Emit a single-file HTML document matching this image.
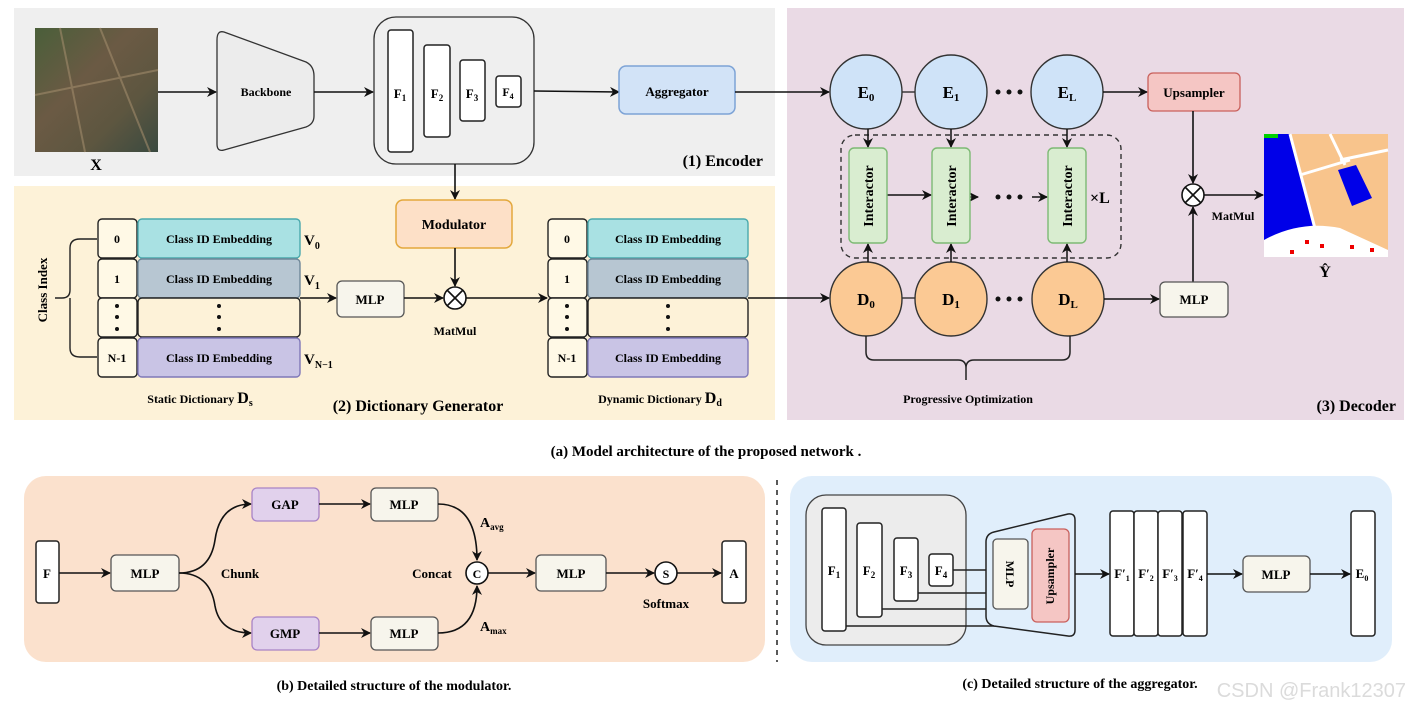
<!DOCTYPE html>
<html><head><meta charset="utf-8"><style>
html,body{margin:0;padding:0;background:#fff;}
svg{display:block;font-family:"Liberation Serif",serif;font-weight:bold;}
</style></head><body>
<svg width="1412" height="714" viewBox="0 0 1412 714" xmlns="http://www.w3.org/2000/svg">
<defs>
<marker id="ar" markerWidth="10" markerHeight="10" refX="9" refY="5" orient="auto" markerUnits="userSpaceOnUse"><path d="M0,0 L10,5 L0,10 L3,5 Z" fill="#111"/></marker>
<linearGradient id="sat" x1="0" y1="0" x2="1" y2="1"><stop offset="0" stop-color="#4a5f3a"/><stop offset="0.4" stop-color="#6b5a44"/><stop offset="0.7" stop-color="#5d5640"/><stop offset="1" stop-color="#3a4a40"/></linearGradient>
</defs>
<g stroke-linejoin="round">
<!-- backgrounds -->
<rect x="14" y="8" width="761" height="168" fill="#efefef"/>
<rect x="14" y="186" width="761" height="234" fill="#fdf2d8"/>
<rect x="787" y="8" width="617" height="412" fill="#eadae5"/>
<rect x="24" y="476" width="741" height="186" rx="22" fill="#fbe1cd"/>
<rect x="790" y="476" width="602" height="186" rx="22" fill="#e0eefb"/>
<line x1="777" y1="480" x2="777" y2="662" stroke="#222" stroke-width="1.5" stroke-dasharray="5,5"/>

<!-- Encoder -->
<rect x="35" y="28" width="123" height="124" fill="url(#sat)"/>
<path d="M60,28 L85,152 M35,95 L158,70 M100,28 L150,152" stroke="#a08a6a" stroke-width="2" fill="none" opacity="0.6"/>
<text x="96" y="170" font-size="16" text-anchor="middle">X</text>
<line x1="158" y1="92" x2="216" y2="92" stroke="#111" stroke-width="1.6" marker-end="url(#ar)"/>
<path d="M224,32 L306,62 Q314,66 314,76 L314,116 Q314,124 306,127 L224,150 Q217,152 217,144 L217,40 Q217,30 224,32 Z" fill="#ececec" stroke="#333" stroke-width="1.3"/>
<text x="266" y="96" font-size="12" text-anchor="middle">Backbone</text>
<line x1="314" y1="92" x2="373" y2="92" stroke="#111" stroke-width="1.6" marker-end="url(#ar)"/>
<rect x="374" y="17" width="160" height="147" rx="22" fill="#efefef" stroke="#333" stroke-width="1.3"/>
<rect x="388" y="30" width="25" height="122" rx="3" fill="#fff" stroke="#222" stroke-width="1.5"/>
<rect x="424" y="45" width="26" height="92" rx="3" fill="#fff" stroke="#222" stroke-width="1.5"/>
<rect x="460" y="60" width="25" height="61" rx="3" fill="#fff" stroke="#222" stroke-width="1.5"/>
<rect x="496" y="76" width="25" height="31" rx="3" fill="#fff" stroke="#222" stroke-width="1.5"/>
<text x="400" y="98" font-size="13" text-anchor="middle">F<tspan font-size="9" dy="3">1</tspan></text>
<text x="437" y="98" font-size="13" text-anchor="middle">F<tspan font-size="9" dy="3">2</tspan></text>
<text x="472" y="98" font-size="13" text-anchor="middle">F<tspan font-size="9" dy="3">3</tspan></text>
<text x="508" y="96" font-size="12" text-anchor="middle">F<tspan font-size="8" dy="3">4</tspan></text>
<line x1="534" y1="91" x2="619" y2="92" stroke="#111" stroke-width="1.6" marker-end="url(#ar)"/>
<rect x="619" y="66" width="116" height="48" rx="7" fill="#d2e3f7" stroke="#7da3d6" stroke-width="1.5"/>
<text x="677" y="96" font-size="13" text-anchor="middle">Aggregator</text>
<line x1="735" y1="92" x2="829" y2="92" stroke="#111" stroke-width="1.6" marker-end="url(#ar)"/>
<text x="763" y="166" font-size="16" text-anchor="end">(1) Encoder</text>
<line x1="455" y1="164" x2="455" y2="199" stroke="#111" stroke-width="1.6" marker-end="url(#ar)"/>

<!-- Dictionary generator -->
<text transform="translate(47,290) rotate(-90)" font-size="13" text-anchor="middle">Class Index</text>
<path d="M55,298 L62,298 Q70,298 70,290 L70,248 Q70,239 80,239 L97,239 M70,298 Q70,298 70,306 L70,348 Q70,357 80,357 L97,357" fill="none" stroke="#222" stroke-width="1.4"/>
<g stroke="#222" stroke-width="1.4">
<rect x="98" y="219" width="39" height="39" rx="4" fill="#fff9e6"/>
<rect x="98" y="259" width="39" height="39" rx="4" fill="#fff9e6"/>
<rect x="98" y="298" width="39" height="39" rx="4" fill="#fff9e6"/>
<rect x="98" y="338" width="39" height="39" rx="4" fill="#fff9e6"/>
<rect x="138" y="219" width="162" height="39" rx="4" fill="#a9e1e3" stroke="#4aa9ad"/>
<rect x="138" y="259" width="162" height="39" rx="4" fill="#b7c6d2" stroke="#6f8799"/>
<rect x="138" y="298" width="162" height="39" rx="4" fill="#fdf2d8"/>
<rect x="138" y="338" width="162" height="39" rx="4" fill="#c9c4e5" stroke="#7f78b8"/>
<rect x="548" y="219" width="39" height="39" rx="4" fill="#fff9e6"/>
<rect x="548" y="259" width="39" height="39" rx="4" fill="#fff9e6"/>
<rect x="548" y="298" width="39" height="39" rx="4" fill="#fff9e6"/>
<rect x="548" y="338" width="39" height="39" rx="4" fill="#fff9e6"/>
<rect x="588" y="219" width="160" height="39" rx="4" fill="#a9e1e3" stroke="#4aa9ad"/>
<rect x="588" y="259" width="160" height="39" rx="4" fill="#b7c6d2" stroke="#6f8799"/>
<rect x="588" y="298" width="160" height="39" rx="4" fill="#fdf2d8"/>
<rect x="588" y="338" width="160" height="39" rx="4" fill="#c9c4e5" stroke="#7f78b8"/>
</g>
<g font-size="12" text-anchor="middle">
<text x="117" y="243">0</text><text x="117" y="283">1</text><text x="117" y="362">N-1</text>
<text x="219" y="243">Class ID Embedding</text><text x="219" y="283">Class ID Embedding</text><text x="219" y="362">Class ID Embedding</text>
<text x="567" y="243">0</text><text x="567" y="283">1</text><text x="567" y="362">N-1</text>
<text x="668" y="243">Class ID Embedding</text><text x="668" y="283">Class ID Embedding</text><text x="668" y="362">Class ID Embedding</text>
</g>
<g fill="#111">
<circle cx="117" cy="306" r="2"/><circle cx="117" cy="317" r="2"/><circle cx="117" cy="329" r="2"/>
<circle cx="219" cy="306" r="2"/><circle cx="219" cy="317" r="2"/><circle cx="219" cy="329" r="2"/>
<circle cx="567" cy="306" r="2"/><circle cx="567" cy="317" r="2"/><circle cx="567" cy="329" r="2"/>
<circle cx="668" cy="306" r="2"/><circle cx="668" cy="317" r="2"/><circle cx="668" cy="329" r="2"/>
</g>
<text x="304" y="245" font-size="15">V<tspan font-size="10" dy="4">0</tspan></text>
<text x="304" y="285" font-size="15">V<tspan font-size="10" dy="4">1</tspan></text>
<text x="304" y="364" font-size="15">V<tspan font-size="10" dy="4">N−1</tspan></text>
<line x1="300" y1="298" x2="336" y2="298" stroke="#111" stroke-width="1.6" marker-end="url(#ar)"/>
<rect x="337" y="281" width="67" height="36" rx="5" fill="#f7f5ec" stroke="#555" stroke-width="1.3"/>
<text x="370" y="304" font-size="13" text-anchor="middle">MLP</text>
<line x1="404" y1="298" x2="443" y2="298" stroke="#111" stroke-width="1.6" marker-end="url(#ar)"/>
<rect x="396" y="200" width="116" height="48" rx="7" fill="#fde0c7" stroke="#e3a83c" stroke-width="1.5"/>
<text x="454" y="229" font-size="14" text-anchor="middle">Modulator</text>
<line x1="455" y1="248" x2="455" y2="286" stroke="#111" stroke-width="1.6" marker-end="url(#ar)"/>
<circle cx="455" cy="298" r="11" fill="#fff" stroke="#111" stroke-width="1.6"/>
<path d="M447,290 L463,306 M463,290 L447,306" stroke="#111" stroke-width="1.6"/>
<text x="455" y="335" font-size="12" text-anchor="middle">MatMul</text>
<line x1="466" y1="298" x2="547" y2="298" stroke="#111" stroke-width="1.6" marker-end="url(#ar)"/>
<line x1="748" y1="298" x2="829" y2="298" stroke="#111" stroke-width="1.6" marker-end="url(#ar)"/>
<text x="200" y="403" font-size="12" text-anchor="middle">Static Dictionary  <tspan font-size="16">D<tspan font-size="10" dy="3">s</tspan></tspan></text>
<text x="418" y="411" font-size="16" text-anchor="middle">(2) Dictionary Generator</text>
<text x="660" y="403" font-size="12" text-anchor="middle">Dynamic Dictionary  <tspan font-size="16">D<tspan font-size="10" dy="3">d</tspan></tspan></text>

<!-- Decoder -->
<line x1="902" y1="92" x2="915" y2="92" stroke="#222" stroke-width="1.3"/>
<line x1="902" y1="298" x2="915" y2="298" stroke="#222" stroke-width="1.3"/>
<g stroke="#333" stroke-width="1.4">
<ellipse cx="866" cy="92" rx="36" ry="37" fill="#cfe3f8"/>
<ellipse cx="951" cy="92" rx="36" ry="37" fill="#cfe3f8"/>
<ellipse cx="1067" cy="92" rx="36" ry="37" fill="#cfe3f8"/>
<ellipse cx="866" cy="299" rx="36" ry="37" fill="#fbc994"/>
<ellipse cx="951" cy="299" rx="36" ry="37" fill="#fbc994"/>
<ellipse cx="1068" cy="299" rx="36" ry="37" fill="#fbc994"/>
</g>
<g font-size="17" text-anchor="middle">
<text x="866" y="98">E<tspan font-size="11" dy="3">0</tspan></text>
<text x="951" y="98">E<tspan font-size="11" dy="3">1</tspan></text>
<text x="1067" y="98">E<tspan font-size="11" dy="3">L</tspan></text>
<text x="866" y="305">D<tspan font-size="11" dy="3">0</tspan></text>
<text x="951" y="305">D<tspan font-size="11" dy="3">1</tspan></text>
<text x="1068" y="305">D<tspan font-size="11" dy="3">L</tspan></text>
</g>
<g fill="#111">
<circle cx="998" cy="92" r="2.5"/><circle cx="1009" cy="92" r="2.5"/><circle cx="1020" cy="92" r="2.5"/>
<circle cx="998" cy="299" r="2.5"/><circle cx="1009" cy="299" r="2.5"/><circle cx="1020" cy="299" r="2.5"/>
<circle cx="998" cy="197" r="2.5"/><circle cx="1009" cy="197" r="2.5"/><circle cx="1020" cy="197" r="2.5"/>
</g>
<rect x="841" y="135" width="280" height="123" rx="14" fill="none" stroke="#333" stroke-width="1.4" stroke-dasharray="5,4"/>
<g stroke="#111" stroke-width="1.5">
<line x1="868" y1="129" x2="868" y2="147" marker-end="url(#ar)"/>
<line x1="951" y1="129" x2="951" y2="147" marker-end="url(#ar)"/>
<line x1="1067" y1="129" x2="1067" y2="147" marker-end="url(#ar)"/>
<line x1="868" y1="262" x2="868" y2="244" marker-end="url(#ar)"/>
<line x1="951" y1="262" x2="951" y2="244" marker-end="url(#ar)"/>
<line x1="1067" y1="262" x2="1067" y2="244" marker-end="url(#ar)"/>
<line x1="887" y1="195" x2="931" y2="195" marker-end="url(#ar)"/>
<line x1="970" y1="197" x2="978" y2="197" marker-end="url(#ar)"/>
<line x1="1032" y1="197" x2="1047" y2="197" marker-end="url(#ar)"/>
</g>
<g stroke="#7dba74" stroke-width="1.4" fill="#d9edd0">
<rect x="849" y="148" width="38" height="95" rx="5"/>
<rect x="932" y="148" width="38" height="95" rx="5"/>
<rect x="1048" y="148" width="38" height="95" rx="5"/>
</g>
<g font-size="14" text-anchor="middle">
<text transform="translate(873,196) rotate(-90)">Interactor</text>
<text transform="translate(956,196) rotate(-90)">Interactor</text>
<text transform="translate(1072,196) rotate(-90)">Interactor</text>
</g>
<text x="1090" y="203" font-size="16">×L</text>
<line x1="1103" y1="92" x2="1147" y2="92" stroke="#111" stroke-width="1.6" marker-end="url(#ar)"/>
<rect x="1148" y="73" width="92" height="38" rx="5" fill="#f5c6c4" stroke="#c9605c" stroke-width="1.3"/>
<text x="1194" y="97" font-size="13" text-anchor="middle">Upsampler</text>
<line x1="1193" y1="111" x2="1193" y2="183" stroke="#111" stroke-width="1.6" marker-end="url(#ar)"/>
<line x1="1193" y1="282" x2="1193" y2="207" stroke="#111" stroke-width="1.6" marker-end="url(#ar)"/>
<circle cx="1193" cy="195" r="11" fill="#fff" stroke="#111" stroke-width="1.6"/>
<path d="M1185,187 L1201,203 M1201,187 L1185,203" stroke="#111" stroke-width="1.6"/>
<text x="1233" y="220" font-size="12" text-anchor="middle">MatMul</text>
<line x1="1204" y1="195" x2="1263" y2="195" stroke="#111" stroke-width="1.6" marker-end="url(#ar)"/>
<line x1="1104" y1="299" x2="1159" y2="299" stroke="#111" stroke-width="1.6" marker-end="url(#ar)"/>
<rect x="1160" y="282" width="68" height="35" rx="5" fill="#f7f5ec" stroke="#555" stroke-width="1.3"/>
<text x="1194" y="304" font-size="13" text-anchor="middle">MLP</text>
<!-- output map -->
<rect x="1264" y="134" width="124" height="123" fill="#f8c48c"/>
<path d="M1264,134 L1290,134 L1318,240 L1298,257 L1264,257 Z" fill="#0000e8"/>
<path d="M1264,240 Q1300,220 1340,228 L1388,250 L1388,257 L1264,257 Z" fill="#fff"/>
<path d="M1338,170 L1356,165 L1372,198 L1352,206 Z" fill="#0000e8"/>
<path d="M1290,134 L1318,240" stroke="#fff" stroke-width="3" fill="none"/>
<path d="M1300,175 L1350,160 M1330,134 L1345,165 M1340,160 L1388,150" stroke="#fff" stroke-width="3" fill="none"/>
<rect x="1264" y="134" width="14" height="4" fill="#00d000"/>
<g fill="#e00"><rect x="1305" y="240" width="4" height="4"/><rect x="1320" y="244" width="4" height="4"/><rect x="1350" y="245" width="4" height="4"/><rect x="1370" y="248" width="4" height="4"/><rect x="1290" y="250" width="4" height="4"/></g>
<text x="1325" y="277" font-size="16" text-anchor="middle">Ŷ</text>
<path d="M866,336 L866,352 Q866,360 874,360 L958,360 Q966,360 966,368 L966,380 M966,368 Q966,360 974,360 L1062,360 Q1070,360 1070,352 L1070,336" fill="none" stroke="#222" stroke-width="1.5"/>
<text x="968" y="403" font-size="12" text-anchor="middle">Progressive Optimization</text>
<text x="1396" y="411" font-size="16" text-anchor="end">(3) Decoder</text>

<text x="706" y="456" font-size="15" text-anchor="middle">(a) Model architecture of the proposed network .</text>

<!-- (b) modulator -->
<rect x="36" y="541" width="23" height="62" rx="3" fill="#fff" stroke="#222" stroke-width="1.5"/>
<text x="47" y="578" font-size="13" text-anchor="middle">F</text>
<line x1="59" y1="573" x2="110" y2="573" stroke="#111" stroke-width="1.6" marker-end="url(#ar)"/>
<rect x="111" y="555" width="68" height="36" rx="5" fill="#f7f5ec" stroke="#555" stroke-width="1.3"/>
<text x="145" y="578" font-size="13" text-anchor="middle">MLP</text>
<path d="M179,573 Q210,573 215,540 Q220,504 251,504" fill="none" stroke="#111" stroke-width="1.6" marker-end="url(#ar)"/>
<path d="M179,573 Q210,573 215,606 Q220,633 251,633" fill="none" stroke="#111" stroke-width="1.6" marker-end="url(#ar)"/>
<text x="240" y="578" font-size="13" text-anchor="middle">Chunk</text>
<rect x="252" y="488" width="67" height="33" rx="5" fill="#e1d1ec" stroke="#a883c6" stroke-width="1.3"/>
<text x="285" y="509" font-size="13" text-anchor="middle">GAP</text>
<rect x="252" y="617" width="67" height="33" rx="5" fill="#e1d1ec" stroke="#a883c6" stroke-width="1.3"/>
<text x="285" y="638" font-size="13" text-anchor="middle">GMP</text>
<line x1="319" y1="504" x2="370" y2="504" stroke="#111" stroke-width="1.6" marker-end="url(#ar)"/>
<line x1="319" y1="633" x2="370" y2="633" stroke="#111" stroke-width="1.6" marker-end="url(#ar)"/>
<rect x="371" y="488" width="67" height="33" rx="5" fill="#f7f5ec" stroke="#555" stroke-width="1.3"/>
<text x="404" y="509" font-size="13" text-anchor="middle">MLP</text>
<rect x="371" y="617" width="67" height="33" rx="5" fill="#f7f5ec" stroke="#555" stroke-width="1.3"/>
<text x="404" y="638" font-size="13" text-anchor="middle">MLP</text>
<path d="M438,504 Q477,504 477,560" fill="none" stroke="#111" stroke-width="1.6" marker-end="url(#ar)"/>
<path d="M438,633 Q477,633 477,586" fill="none" stroke="#111" stroke-width="1.6" marker-end="url(#ar)"/>
<text x="480" y="527" font-size="14">A<tspan font-size="9" dy="3">avg</tspan></text>
<text x="480" y="631" font-size="14">A<tspan font-size="9" dy="3">max</tspan></text>
<circle cx="477" cy="573" r="11" fill="#fff" stroke="#111" stroke-width="1.6"/>
<text x="477" y="578" font-size="12" text-anchor="middle">C</text>
<text x="432" y="578" font-size="13" text-anchor="middle">Concat</text>
<line x1="488" y1="573" x2="535" y2="573" stroke="#111" stroke-width="1.6" marker-end="url(#ar)"/>
<rect x="536" y="555" width="70" height="36" rx="5" fill="#f7f5ec" stroke="#555" stroke-width="1.3"/>
<text x="571" y="578" font-size="13" text-anchor="middle">MLP</text>
<line x1="606" y1="573" x2="654" y2="573" stroke="#111" stroke-width="1.6" marker-end="url(#ar)"/>
<circle cx="666" cy="573" r="11" fill="#fff" stroke="#111" stroke-width="1.6"/>
<text x="666" y="578" font-size="12" text-anchor="middle">S</text>
<text x="666" y="608" font-size="13" text-anchor="middle">Softmax</text>
<line x1="677" y1="573" x2="721" y2="573" stroke="#111" stroke-width="1.6" marker-end="url(#ar)"/>
<rect x="722" y="541" width="24" height="62" rx="3" fill="#fff" stroke="#222" stroke-width="1.5"/>
<text x="734" y="578" font-size="13" text-anchor="middle">A</text>
<text x="394" y="690" font-size="14" text-anchor="middle">(b) Detailed structure of the modulator.</text>

<!-- (c) aggregator -->
<rect x="806" y="495" width="160" height="150" rx="20" fill="#ececec" stroke="#444" stroke-width="1.3"/>
<g stroke="#222" stroke-width="1.4" fill="none">
<line x1="846" y1="626" x2="1022" y2="626"/>
<line x1="882" y1="609" x2="986" y2="609"/>
<line x1="918" y1="593" x2="986" y2="593"/>
<line x1="953" y1="570" x2="986" y2="570"/>
</g>
<g stroke="#222" stroke-width="1.5" fill="#fff">
<rect x="822" y="508" width="24" height="123" rx="3"/>
<rect x="857" y="523" width="25" height="94" rx="3"/>
<rect x="894" y="538" width="24" height="63" rx="3"/>
<rect x="929" y="554" width="24" height="32" rx="3"/>
</g>
<g font-size="13" text-anchor="middle">
<text x="834" y="575">F<tspan font-size="9" dy="3">1</tspan></text>
<text x="869" y="575">F<tspan font-size="9" dy="3">2</tspan></text>
<text x="906" y="575">F<tspan font-size="9" dy="3">3</tspan></text>
<text x="941" y="575">F<tspan font-size="9" dy="3">4</tspan></text>
</g>
<path d="M994,532 L1068,514 Q1075,513 1075,520 L1075,630 Q1075,637 1068,636 L994,626 Q986,624 986,616 L986,542 Q986,534 994,532 Z" fill="#e0eefb" stroke="#222" stroke-width="1.5"/>
<rect x="993" y="539" width="35" height="70" rx="4" fill="#f7f5ec" stroke="#555" stroke-width="1.3"/>
<text transform="translate(1010,574) rotate(90)" font-size="12" text-anchor="middle" dy="4">MLP</text>
<rect x="1032" y="529" width="37" height="93" rx="5" fill="#f5c6c4" stroke="#c9605c" stroke-width="1.3"/>
<text transform="translate(1050,576) rotate(-90)" font-size="12" text-anchor="middle" dy="4">Upsampler</text>
<line x1="1075" y1="574" x2="1109" y2="574" stroke="#111" stroke-width="1.6" marker-end="url(#ar)"/>
<g stroke="#222" stroke-width="1.5" fill="#fff">
<rect x="1110" y="511" width="24" height="125" rx="3"/>
<rect x="1134" y="511" width="24" height="125" rx="3"/>
<rect x="1158" y="511" width="24" height="125" rx="3"/>
<rect x="1183" y="511" width="24" height="125" rx="3"/>
<rect x="1351" y="511" width="24" height="125" rx="3"/>
</g>
<g font-size="13" text-anchor="middle">
<text x="1122" y="578">F′<tspan font-size="8" dy="3">1</tspan></text>
<text x="1146" y="578">F′<tspan font-size="8" dy="3">2</tspan></text>
<text x="1170" y="578">F′<tspan font-size="8" dy="3">3</tspan></text>
<text x="1195" y="578">F′<tspan font-size="8" dy="3">4</tspan></text>
<text x="1362" y="578">E<tspan font-size="8" dy="3">0</tspan></text>
</g>
<line x1="1207" y1="574" x2="1242" y2="574" stroke="#111" stroke-width="1.6" marker-end="url(#ar)"/>
<rect x="1243" y="556" width="67" height="36" rx="5" fill="#f7f5ec" stroke="#555" stroke-width="1.3"/>
<text x="1276" y="579" font-size="13" text-anchor="middle">MLP</text>
<line x1="1310" y1="574" x2="1350" y2="574" stroke="#111" stroke-width="1.6" marker-end="url(#ar)"/>
<text x="1080" y="688" font-size="14" text-anchor="middle">(c) Detailed structure of the aggregator.</text>
<text x="1406" y="697" font-size="20" font-weight="normal" font-family="Liberation Sans, sans-serif" fill="#ccc" fill-opacity="0.7" text-anchor="end">CSDN @Frank12307</text>
</g>
</svg>
</body></html>
